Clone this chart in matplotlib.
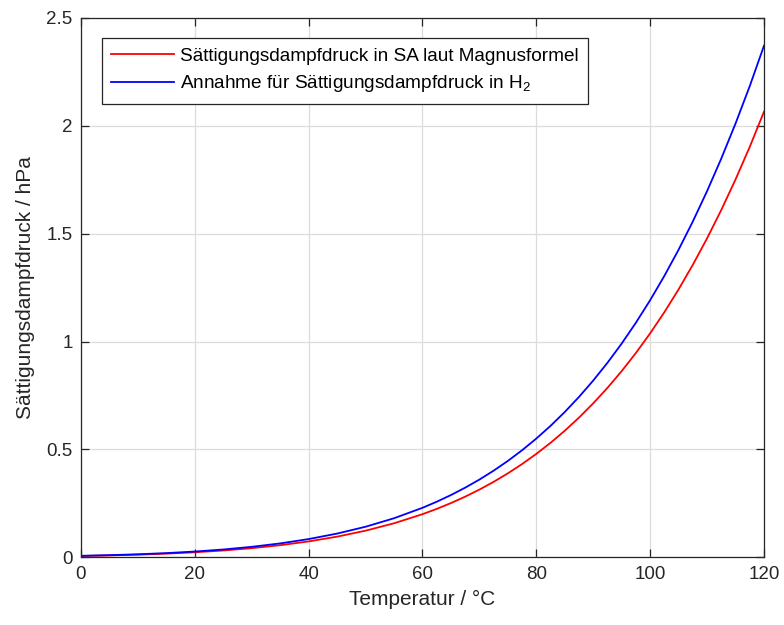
"""Saturation vapour pressure vs. temperature
"""
import matplotlib
matplotlib.use("Agg")
import matplotlib.pyplot as plt

# temperature in degC
temperatur = [0, 5, 10, 15, 20, 25, 30, 35, 40, 45, 50, 55, 60, 62.5,
              65, 67.5, 70, 72.5, 75, 77.5, 80, 82.5, 85, 87.5, 90, 92.5,
              95, 97.5, 100, 102.5, 105, 107.5, 110, 112.5, 115, 117.5, 120]

# saturation pressure, Magnus formula (SA)
p_magnus = [0.00611, 0.00872, 0.01226, 0.01702, 0.02333, 0.03160, 0.04234,
            0.05613, 0.07367, 0.09580, 0.12345, 0.15773, 0.19993, 0.22445,
            0.25145, 0.28123, 0.31391, 0.34991, 0.38928, 0.43240, 0.47955,
            0.53085, 0.58688, 0.64774, 0.71394, 0.78563, 0.86332, 0.94753,
            1.0384, 1.1366, 1.2424, 1.3564, 1.4788, 1.6105, 1.7517, 1.9030,
            2.0659]

# assumed saturation pressure in H2
p_h2 = [0.00701, 0.01001, 0.01407, 0.01954, 0.02678, 0.03628, 0.04861,
        0.06444, 0.08457, 0.10998, 0.14172, 0.18107, 0.22952, 0.25767,
        0.28866, 0.32285, 0.36037, 0.40170, 0.44689, 0.49640, 0.55052,
        0.60942, 0.67374, 0.74361, 0.81960, 0.90190, 0.99109, 1.0878,
        1.1921, 1.3048, 1.4263, 1.5571, 1.6977, 1.8489, 2.0110, 2.1846,
        2.3717]

x_ticks = [0, 20, 40, 60, 80, 100, 120]
y_ticks = [0, 0.5, 1, 1.5, 2, 2.5]
y_ticklabels = ["0", "0.5", "1", "1.5", "2", "2.5"]

plt.rcParams["font.family"] = ["Liberation Sans", "DejaVu Sans"]
plt.rcParams["mathtext.fontset"] = "custom"
plt.rcParams["mathtext.rm"] = "Liberation Sans"
plt.rcParams["mathtext.it"] = "Liberation Sans"

ax_col = "#262626"

fig = plt.figure(figsize=(7.84, 6.25), dpi=100)
ax = fig.add_axes([0.1033, 0.1083, 0.8712, 0.8629])

ax.plot(temperatur, p_magnus, color="#ff0000", lw=1.3,
        label="Sättigungsdampfdruck in SA laut Magnusformel")
ax.plot(temperatur, p_h2, color="#0000ff", lw=1.3,
        label="Annahme für Sättigungsdampfdruck in H$_2$")

ax.set_xlim(0, 120)
ax.set_ylim(0, 2.5)
ax.set_xticks(x_ticks)
ax.set_yticks(y_ticks)
ax.set_yticklabels(y_ticklabels)

ax.grid(True, color="#dcdcdc", lw=0.9)
ax.set_axisbelow(True)
for sp in ax.spines.values():
    sp.set_color(ax_col)
    sp.set_linewidth(0.9)
ax.tick_params(direction="in", length=6, width=0.9, color=ax_col,
               labelcolor=ax_col, labelsize=13.5, top=True, right=True,
               pad=6)

ax.set_xlabel("Temperatur / °C", fontsize=15, color=ax_col, labelpad=5)
ax.set_ylabel("Sättigungsdampfdruck / hPa", fontsize=15, color=ax_col,
              labelpad=8)

leg = ax.legend(loc="upper left", bbox_to_anchor=(0.0303, 0.963),
                borderaxespad=0, fancybox=False, framealpha=1,
                edgecolor=ax_col, fontsize=13.7, handlelength=3.3,
                handletextpad=0.33, labelspacing=0.45, borderpad=0.5)
leg.get_frame().set_linewidth(0.9)

fig.savefig("out.png", dpi=100)
